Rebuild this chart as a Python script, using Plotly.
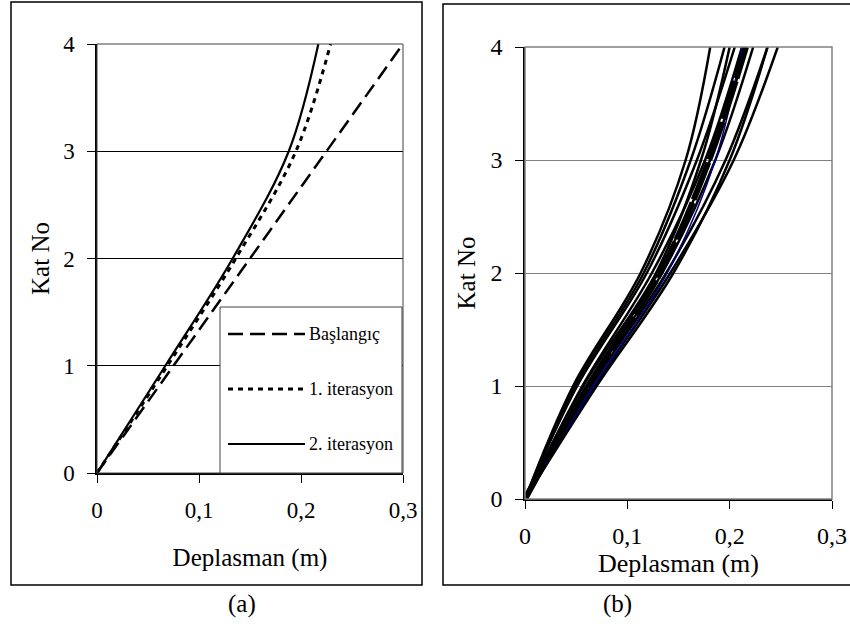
import plotly.graph_objects as go

# ---------------- data ----------------
floors = [0, 1, 2, 3, 4]

# panel (a)
baslangic = [0.0, 0.075, 0.150, 0.225, 0.300]
iter1 = [0.0, 0.069, 0.136, 0.195, 0.229]
iter2 = [0.0, 0.067, 0.133, 0.188, 0.217]
legend_names = ["Başlangıç", "1. iterasyon", "2. iterasyon"]

# panel (b) - individual records
rec_thin = [
    [0.0, 0.047, 0.113, 0.157, 0.181],
    [0.0, 0.049, 0.116, 0.162, 0.195],
    [0.0, 0.051, 0.119, 0.168, 0.205],
    [0.0, 0.056, 0.124, 0.176, 0.212],
    [0.0, 0.057, 0.128, 0.172, 0.200],
    [0.0, 0.060, 0.130, 0.181, 0.216],
    [0.0, 0.062, 0.134, 0.186, 0.223],
    [0.0, 0.065, 0.138, 0.196, 0.237],
    [0.0, 0.068, 0.142, 0.204, 0.247],
    [0.0, 0.070, 0.145, 0.200, 0.237],
]
rec_thick = [0.0, 0.062, 0.132, 0.180, 0.216]
rec_blue = [0.0, 0.067, 0.139, 0.186, 0.212]

x_ticks = [0, 0.1, 0.2, 0.3]
x_ticklabels = ["0", "0,1", "0,2", "0,3"]
y_ticks = [0, 1, 2, 3, 4]

FONT = "Liberation Serif, Times New Roman, serif"
W, H = 850, 640


def px(x):
    return x / W


def py(y):
    return 1 - y / H


DASH_A = "15px,7px"
DOT_A = "5px,5px"

fig = go.Figure()

# panel (a)
fig.add_trace(go.Scatter(x=baslangic, y=floors, mode="lines", name=legend_names[0],
                         line=dict(color="black", width=2.5, dash=DASH_A),
                         xaxis="x", yaxis="y"))
fig.add_trace(go.Scatter(x=iter1, y=floors, mode="lines", name=legend_names[1],
                         line=dict(color="black", width=3, dash=DOT_A, shape="spline", smoothing=1),
                         xaxis="x", yaxis="y"))
fig.add_trace(go.Scatter(x=iter2, y=floors, mode="lines", name=legend_names[2],
                         line=dict(color="black", width=2.2, shape="spline", smoothing=1),
                         xaxis="x", yaxis="y"))

# panel (b)
for r in rec_thin:
    fig.add_trace(go.Scatter(x=r, y=floors, mode="lines", showlegend=False,
                             line=dict(color="black", width=2.5, shape="spline", smoothing=1),
                             xaxis="x2", yaxis="y2"))
fig.add_trace(go.Scatter(x=rec_blue, y=floors, mode="lines", showlegend=False,
                         line=dict(color="#000080", width=1.5, shape="spline", smoothing=1),
                         xaxis="x2", yaxis="y2"))
fig.add_trace(go.Scatter(x=rec_thick, y=floors, mode="lines", showlegend=False,
                         line=dict(color="black", width=6, dash="40px,3px", shape="spline", smoothing=1),
                         xaxis="x2", yaxis="y2"))

axis_common = dict(showline=True, linecolor="black", linewidth=1.5, ticks="outside",
                   ticklen=8, tickcolor="black", tickwidth=1, zeroline=False, automargin=False,
                   ticklabelstandoff=8)

fig.update_layout(
    width=W, height=H, margin=dict(l=0, r=0, t=0, b=0, autoexpand=False),
    paper_bgcolor="white", plot_bgcolor="white",
    font=dict(family=FONT, color="black"),
    showlegend=False,
    xaxis=dict(domain=[px(97), px(403)], range=[0, 0.3], tickvals=x_ticks, ticktext=x_ticklabels,
               showgrid=False, anchor="y", tickfont=dict(family=FONT, size=23, color="black"),
               title=dict(text="Deplasman (m)", font=dict(family=FONT, size=25), standoff=26),
               **axis_common),
    yaxis=dict(domain=[py(473), py(44)], range=[0, 4], tickvals=y_ticks, showgrid=True,
               gridcolor="black", gridwidth=1, anchor="x", tickfont=dict(family=FONT, size=23, color="black"),
               title=dict(text="Kat No", font=dict(family=FONT, size=25), standoff=6),
               **axis_common),
    xaxis2=dict(domain=[px(525), px(832)], range=[0, 0.3], tickvals=x_ticks, ticktext=x_ticklabels,
                showgrid=False, anchor="y2", tickfont=dict(family=FONT, size=24, color="black"),
                title=dict(text="Deplasman (m)", font=dict(family=FONT, size=26), standoff=0),
                **{**axis_common, "ticklabelstandoff": 6}),
    yaxis2=dict(domain=[py(499), py(47)], range=[0, 4], tickvals=y_ticks, showgrid=True,
                gridcolor="#808080", gridwidth=1, anchor="x2", tickfont=dict(family=FONT, size=24, color="black"),
                title=dict(text="Kat No", font=dict(family=FONT, size=25), standoff=8),
                **axis_common),
)

shapes = [
    # outer frames
    dict(type="rect", xref="paper", yref="paper", x0=px(11), x1=px(422), y0=py(585), y1=py(2),
         line=dict(color="black", width=1.5), layer="below"),
    dict(type="rect", xref="paper", yref="paper", x0=px(443), x1=px(853), y0=py(585), y1=py(4),
         line=dict(color="black", width=1.5), layer="below"),
    # plot-area borders
    dict(type="rect", xref="x domain", yref="y domain", x0=0, x1=1, y0=0, y1=1,
         line=dict(color="#404040", width=1)),
    dict(type="rect", xref="x2 domain", yref="y2 domain", x0=0, x1=1, y0=0, y1=1,
         line=dict(color="#808080", width=1.5)),
    # legend box (panel a)
    dict(type="rect", xref="paper", yref="paper", x0=px(220), x1=px(402), y0=py(473), y1=py(307),
         line=dict(color="#404040", width=1), fillcolor="white"),
]
legend_styles = [dict(dash=DASH_A, width=2.5), dict(dash=DOT_A, width=3), dict(dash="solid", width=2.2)]
legend_y = [334, 389, 444]
for name, st, ly in zip(legend_names, legend_styles, legend_y):
    shapes.append(dict(type="line", xref="paper", yref="paper", x0=px(228), x1=px(305),
                       y0=py(ly), y1=py(ly), line=dict(color="black", **st)))
    fig.add_annotation(text=name, xref="paper", yref="paper", x=px(307), y=py(ly),
                       xanchor="left", yanchor="middle", showarrow=False,
                       font=dict(family=FONT, size=18, color="black"))
fig.update_layout(shapes=shapes)

fig.add_annotation(text="(a)", xref="paper", yref="paper", x=px(226), y=py(620),
                   showarrow=False, font=dict(family=FONT, size=25, color="black"))
fig.add_annotation(text="(b)", xref="paper", yref="paper", x=px(634), y=py(620),
                   showarrow=False, font=dict(family=FONT, size=25, color="black"))

fig.write_html("out.html", config={"displayModeBar": False},
               post_script="document.body.style.margin='0';document.body.style.overflow='hidden';")
